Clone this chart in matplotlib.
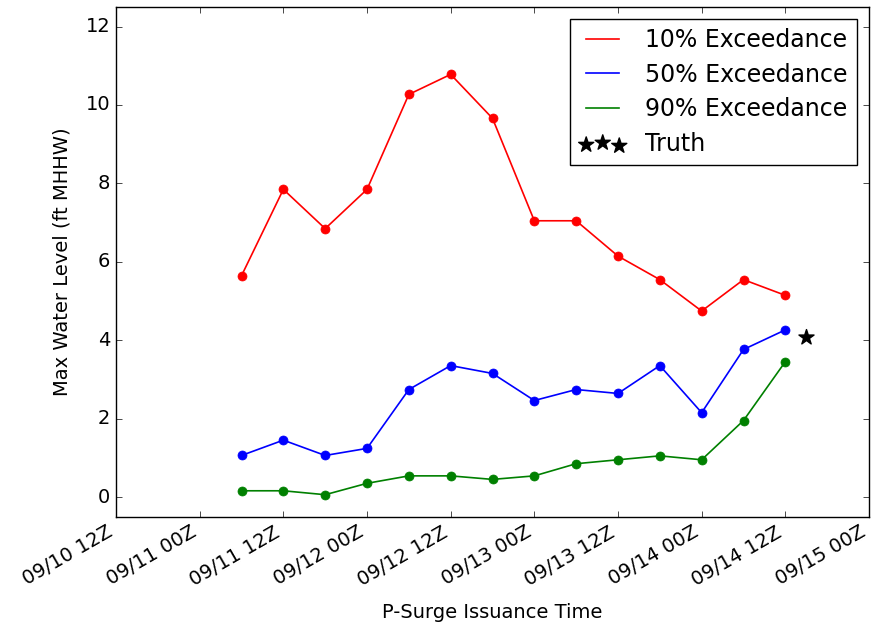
import datetime as dt
import matplotlib
matplotlib.use("Agg")
import matplotlib.pyplot as plt
import matplotlib.dates as mdates

plt.style.use("classic")

# issuance times, every 6 h from 09/11 06Z
start = dt.datetime(2017, 9, 11, 6)
times = [start + dt.timedelta(hours=6 * i) for i in range(14)]

exc10 = [5.65, 7.85, 6.85, 7.85, 10.27, 10.78, 9.66, 7.05, 7.05, 6.15, 5.55, 4.75, 5.55, 5.15]
exc50 = [1.07, 1.46, 1.07, 1.25, 2.75, 3.36, 3.16, 2.47, 2.75, 2.65, 3.36, 2.16, 3.77, 4.27]
exc90 = [0.17, 0.17, 0.07, 0.36, 0.55, 0.55, 0.46, 0.55, 0.86, 0.96, 1.06, 0.96, 1.96, 3.46]

truth_time = [dt.datetime(2017, 9, 14, 15, 0)]
truth_val = [4.1]

fig = plt.figure(figsize=(8.71, 6.26), dpi=100)
ax = fig.add_axes([0.1332, 0.174, 0.8645, 0.815])

# lines carry the legend labels, dots are drawn on top without labels
ax.plot(times, exc10, color="r", lw=1.2, label="10% Exceedance")
ax.plot(times, exc50, color="b", lw=1.2, label="50% Exceedance")
ax.plot(times, exc90, color="g", lw=1.2, label="90% Exceedance")
for vals, c in [(exc10, "r"), (exc50, "b"), (exc90, "g")]:
    ax.plot(times, vals, "o", color=c, markeredgecolor=c, markersize=6.5)
ax.scatter(truth_time, truth_val, marker="*", s=130, color="k", label="Truth")

ax.set_xlim(dt.datetime(2017, 9, 10, 12), dt.datetime(2017, 9, 15, 0))
ax.set_ylim(-0.5, 12.5)
ax.xaxis.set_major_locator(mdates.HourLocator(byhour=[0, 12]))
ax.xaxis.set_major_formatter(mdates.DateFormatter("%m/%d %HZ"))
ax.tick_params(labelsize=14)
for lbl in ax.get_xticklabels():
    lbl.set_rotation(30)
    lbl.set_ha("right")

ax.set_xlabel("P-Surge Issuance Time", fontsize=14, labelpad=10)
ax.set_ylabel("Max Water Level (ft MHHW)", fontsize=14, labelpad=10)
ax.legend(loc="upper right", fontsize=17, scatterpoints=3, labelspacing=0.45)

fig.savefig("out.png", dpi=100)
